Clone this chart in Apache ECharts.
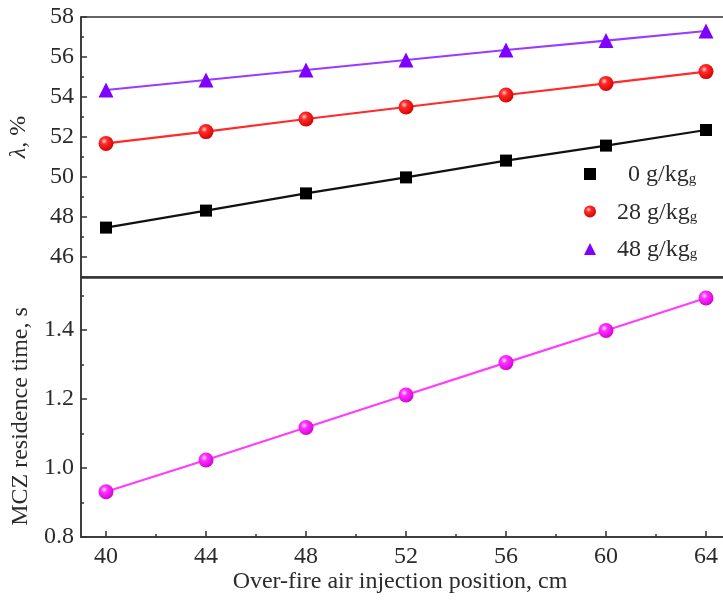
<!DOCTYPE html>
<html>
<head>
<meta charset="utf-8">
<script src="https://cdn.jsdelivr.net/npm/echarts@6/dist/echarts.min.js"></script>
<style>html,body{margin:0;padding:0;background:#fff;}#c{width:723px;height:600px;}</style>
</head>
<body>
<div id="c"></div>
<script>
const xValues = [40, 44, 48, 52, 56, 60, 64];
const lambda0 = [47.47, 48.32, 49.18, 49.98, 50.82, 51.57, 52.35];
const lambda28 = [51.68, 52.27, 52.9, 53.5, 54.1, 54.68, 55.27];
const lambda48 = [54.35, 54.85, 55.35, 55.85, 56.35, 56.82, 57.3];
const residence = [0.931, 1.023, 1.117, 1.211, 1.305, 1.398, 1.492];
const seriesNames = ['0 g/kg', '28 g/kg', '48 g/kg'];
const xMajorTicks = [40, 44, 48, 52, 56, 60, 64];
const xMinorTicks = [42, 46, 50, 54, 58, 62];
const lambdaMajorTicks = [46, 48, 50, 52, 54, 56, 58];
const lambdaMinorTicks = [45, 47, 49, 51, 53, 55, 57];
const timeMajorTicks = [0.8, 1.0, 1.2, 1.4];
const timeMinorTicks = [0.9, 1.1, 1.3, 1.5];

const FONT = 'Liberation Serif';
const TXT = '#2b2b2b';
const AX = '#333';
const pair = arr => xValues.map((x, i) => [x, arr[i]]);
const sphere = (hi, mid, dark) => ({
  type: 'radial', x: 0.38, y: 0.35, r: 0.7,
  colorStops: [{offset: 0, color: hi}, {offset: 0.3, color: mid}, {offset: 1, color: dark}]
});

const chart = echarts.init(document.getElementById('c'), null, {renderer: 'canvas'});

const axisLineStyle = {show: true, lineStyle: {color: AX, width: 1.5}};
const labelStyle = {fontFamily: FONT, fontSize: 24, color: TXT};

chart.setOption({
  animation: false,
  backgroundColor: '#fff',
  grid: [
    {left: 81, width: 650, top: 17, height: 260, show: true, borderColor: AX, borderWidth: 1.5,
     containLabel: false, outerBoundsMode: 'none'},
    {left: 81, width: 650, top: 278, height: 259, show: true, borderColor: AX, borderWidth: 1.5,
     containLabel: false, outerBoundsMode: 'none'}
  ],
  legend: {
    orient: 'vertical',
    left: 579, top: 158,
    itemWidth: 12, itemHeight: 12, itemGap: 13.5,
    data: [
      {name: seriesNames[0], icon: 'rect'},
      {name: seriesNames[1], icon: 'circle'},
      {name: seriesNames[2], icon: 'triangle'}
    ],
    formatter: n => (n === seriesNames[0] ? '{b|' : '{a|') + n + '}{s|g}',
    textStyle: {
      fontFamily: FONT, fontSize: 24, color: TXT,
      rich: {
        a: {fontFamily: FONT, fontSize: 24, color: TXT, padding: [0, 0, 0, 16], lineHeight: 26, verticalAlign: 'bottom'},
        b: {fontFamily: FONT, fontSize: 24, color: TXT, padding: [0, 0, 0, 27], lineHeight: 26, verticalAlign: 'bottom'},
        s: {fontFamily: FONT, fontSize: 15, color: TXT, lineHeight: 12, verticalAlign: 'bottom'}
      }
    }
  },
  xAxis: [
    {gridIndex: 0, type: 'value', min: 39, max: 65, position: 'bottom',
     axisLine: axisLineStyle, axisTick: {show: false}, axisLabel: {show: false}, splitLine: {show: false}},
    {gridIndex: 1, type: 'value', min: 39, max: 65, position: 'bottom',
     axisLine: axisLineStyle,
     axisTick: {show: true, inside: true, length: 6, customValues: xMajorTicks, lineStyle: {color: AX, width: 1.5}},
     axisLabel: Object.assign({customValues: xMajorTicks, margin: 8}, labelStyle),
     splitLine: {show: false},
     name: 'Over-fire air injection position, cm', nameLocation: 'middle', nameGap: 31,
     nameTextStyle: {fontFamily: FONT, fontSize: 24, color: TXT, padding: [0, 12, 0, 0]}},
    {gridIndex: 1, type: 'value', min: 39, max: 65, position: 'bottom',
     axisLine: {show: false},
     axisTick: {show: true, inside: true, length: 3, customValues: xMinorTicks, lineStyle: {color: AX, width: 1.5}},
     axisLabel: {show: false}, splitLine: {show: false}}
  ],
  yAxis: [
    {gridIndex: 0, type: 'value', min: 45, max: 58, position: 'left',
     axisLine: axisLineStyle,
     axisTick: {show: true, inside: true, length: 6, customValues: lambdaMajorTicks, lineStyle: {color: AX, width: 1.5}},
     axisLabel: Object.assign({customValues: lambdaMajorTicks, margin: 7}, labelStyle),
     splitLine: {show: false},
     name: '{i|λ}, %', nameLocation: 'middle', nameGap: 50,
     nameTextStyle: {fontFamily: FONT, fontSize: 24, color: TXT, padding: [0, 0, 0, 20],
       rich: {i: {fontFamily: FONT, fontSize: 24, color: TXT, fontStyle: 'italic'}}}},
    {gridIndex: 0, type: 'value', min: 45, max: 58, position: 'left',
     axisLine: {show: false},
     axisTick: {show: true, inside: true, length: 3, customValues: lambdaMinorTicks, lineStyle: {color: AX, width: 1.5}},
     axisLabel: {show: false}, splitLine: {show: false}},
    {gridIndex: 1, type: 'value', min: 0.8, max: 1.55, position: 'left',
     axisLine: axisLineStyle,
     axisTick: {show: true, inside: true, length: 6, customValues: timeMajorTicks, lineStyle: {color: AX, width: 1.5}},
     axisLabel: Object.assign({customValues: timeMajorTicks, margin: 7, formatter: v => Number(v).toFixed(1)}, labelStyle),
     splitLine: {show: false},
     name: 'MCZ residence time, s', nameLocation: 'middle', nameGap: 46,
     nameTextStyle: {fontFamily: FONT, fontSize: 24, color: TXT, padding: [0, 18, 0, 0]}},
    {gridIndex: 1, type: 'value', min: 0.8, max: 1.55, position: 'left',
     axisLine: {show: false},
     axisTick: {show: true, inside: true, length: 3, customValues: timeMinorTicks, lineStyle: {color: AX, width: 1.5}},
     axisLabel: {show: false}, splitLine: {show: false}}
  ],
  series: [
    {name: seriesNames[0], type: 'line', xAxisIndex: 0, yAxisIndex: 0, data: pair(lambda0),
     symbol: 'rect', symbolSize: 12, itemStyle: {color: '#000'}, lineStyle: {color: '#111', width: 2.2}},
    {name: seriesNames[1], type: 'line', xAxisIndex: 0, yAxisIndex: 0, data: pair(lambda28),
     symbol: 'circle', symbolSize: 15, itemStyle: {color: sphere('#ffd0d0', '#ff2a2a', '#d40000')}, lineStyle: {color: '#ff2a2a', width: 2.2}},
    {name: seriesNames[2], type: 'line', xAxisIndex: 0, yAxisIndex: 0, data: pair(lambda48),
     symbol: 'triangle', symbolSize: 15, itemStyle: {color: '#8000ff'}, lineStyle: {color: '#9a3cff', width: 2.2}},
    {name: 'MCZ', type: 'line', xAxisIndex: 1, yAxisIndex: 2, data: pair(residence),
     symbol: 'circle', symbolSize: 15, itemStyle: {color: sphere('#ffe0ff', '#ff30ff', '#d000d0')}, lineStyle: {color: '#ff3cff', width: 2.2}}
  ]
});
</script>
</body>
</html>
